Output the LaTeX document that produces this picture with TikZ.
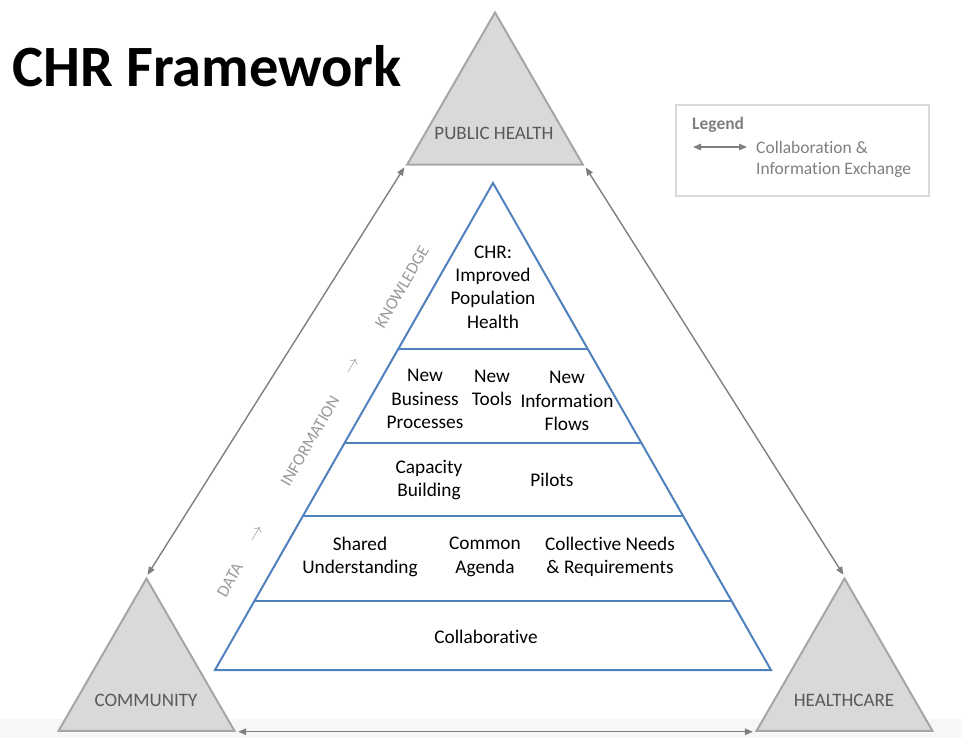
\documentclass[tikz,border=0pt]{standalone}
\usepackage{fontspec}
\setmainfont{Carlito}[Ligatures=NoCommon]
\usetikzlibrary{arrows.meta,shapes.geometric}

\definecolor{pyrblue}{HTML}{4F81BD}
\definecolor{trifill}{HTML}{D9D9D9}
\definecolor{triedge}{HTML}{A6A6A6}
\definecolor{labgray}{HTML}{595959}
\definecolor{linkgray}{HTML}{7F7F7F}
\definecolor{flowgray}{HTML}{999999}
\definecolor{boxgray}{HTML}{D9D9D9}
\definecolor{bandgray}{HTML}{F7F7F7}

\begin{document}
\begin{tikzpicture}[x=1pt,y=-1pt]
\tikzstyle{corner} = [regular polygon, regular polygon sides=3, minimum size=203pt, inner sep=0pt, draw=triedge, fill=trifill, line width=2pt]
\tikzstyle{cornerlabel} = [text=labgray, font=\fontsize{19}{23}\selectfont]
\tikzstyle{link} = [draw=linkgray, line width=1.4pt, >={Triangle[length=8pt,width=6.5pt]}, <->, shorten <=2pt, shorten >=2pt]
\tikzstyle{pyramid} = [draw=pyrblue, line width=2pt]
\tikzstyle{layer} = [draw=pyrblue, line width=1.2pt]
\tikzstyle{item} = [align=center, font=\fontsize{19.3}{23.3}\selectfont]
\tikzstyle{flow} = [rotate=60, text=flowgray, font=\fontsize{17}{20}\selectfont]
\tikzstyle{legendtext} = [anchor=west, inner sep=0pt, text=linkgray, font=\fontsize{17.5}{21}\selectfont]

\useasboundingbox (0,0) rectangle (962,738);
\fill[bandgray] (0,719) rectangle (962,738);

\node[anchor=west, inner sep=0pt, font=\fontsize{58.5}{62}\selectfont\bfseries] (title) at (12,66) {CHR Framework};

% stakeholders
\node[corner] (ph) at (495,114) {};
\node[corner] (cm) at (146.5,680) {};
\node[corner] (hc) at (844.5,680) {};
\node[cornerlabel] (phlab) at (494,133) {PUBLIC HEALTH};
\node[cornerlabel] (cmlab) at (146,700) {COMMUNITY};
\node[cornerlabel] (hclab) at (844,700) {HEALTHCARE};

\draw[link] (ph.corner 2) -- (cm.corner 1);
\draw[link] (ph.corner 3) -- (hc.corner 1);
\draw[link] (cm.corner 3) -- (hc.corner 2);

% pyramid
\coordinate (apex) at (493,183);
\coordinate (bl) at (215,670);
\coordinate (br) at (771,670);
\draw[layer] (398,349) -- (588,349);
\draw[layer] (345,443) -- (641,443);
\draw[layer] (303,516) -- (683,516);
\draw[layer] (254,601) -- (732,601);
\draw[pyramid] (apex) -- (bl) -- (br) -- cycle;

\node[item] (goal) at (493,287) {CHR:\\Improved\\Population\\Health};
\node[item] (bizproc) at (425,399) {New\\Business\\Processes};
\node[item] (tools) at (492,388) {New\\Tools};
\node[item] (infoflows) at (567,401) {New\\Information\\Flows};
\node[item] (capacity) at (429,480) {Capacity\\Building};
\node[item] (pilots) at (552,480) {Pilots};
\node[item] (shared) at (360,557) {Shared\\Understanding};
\node[item] (agenda) at (485,557) {Common\\Agenda};
\node[item] (needs) at (610,557) {Collective Needs\\\& Requirements};
\node[item] (collab) at (486,637) {Collaborative};

% data -> information -> knowledge
\node[flow] (data) at (230,580) {DATA};
\node[flow] (step1) at (257,534) {$\rightarrow$};
\node[flow] (info) at (310,441) {INFORMATION};
\node[flow] (step2) at (353,366) {$\rightarrow$};
\node[flow] (know) at (402,287) {KNOWLEDGE};

% legend
\node[draw=boxgray, line width=1.5pt, minimum width=253pt, minimum height=91pt] (legend) at (802.5,150.5) {};
\node[legendtext, font=\fontsize{17.5}{21}\selectfont\bfseries] (legtitle) at (692,125) {Legend};
\coordinate (legl) at (693,147);
\coordinate (legr) at (747,147);
\draw[link, shorten <=0pt, shorten >=0pt] (legl) -- (legr);
\node[legendtext, align=left] (legdesc) at (756,159) {Collaboration \&\\Information Exchange};
\end{tikzpicture}
\end{document}
